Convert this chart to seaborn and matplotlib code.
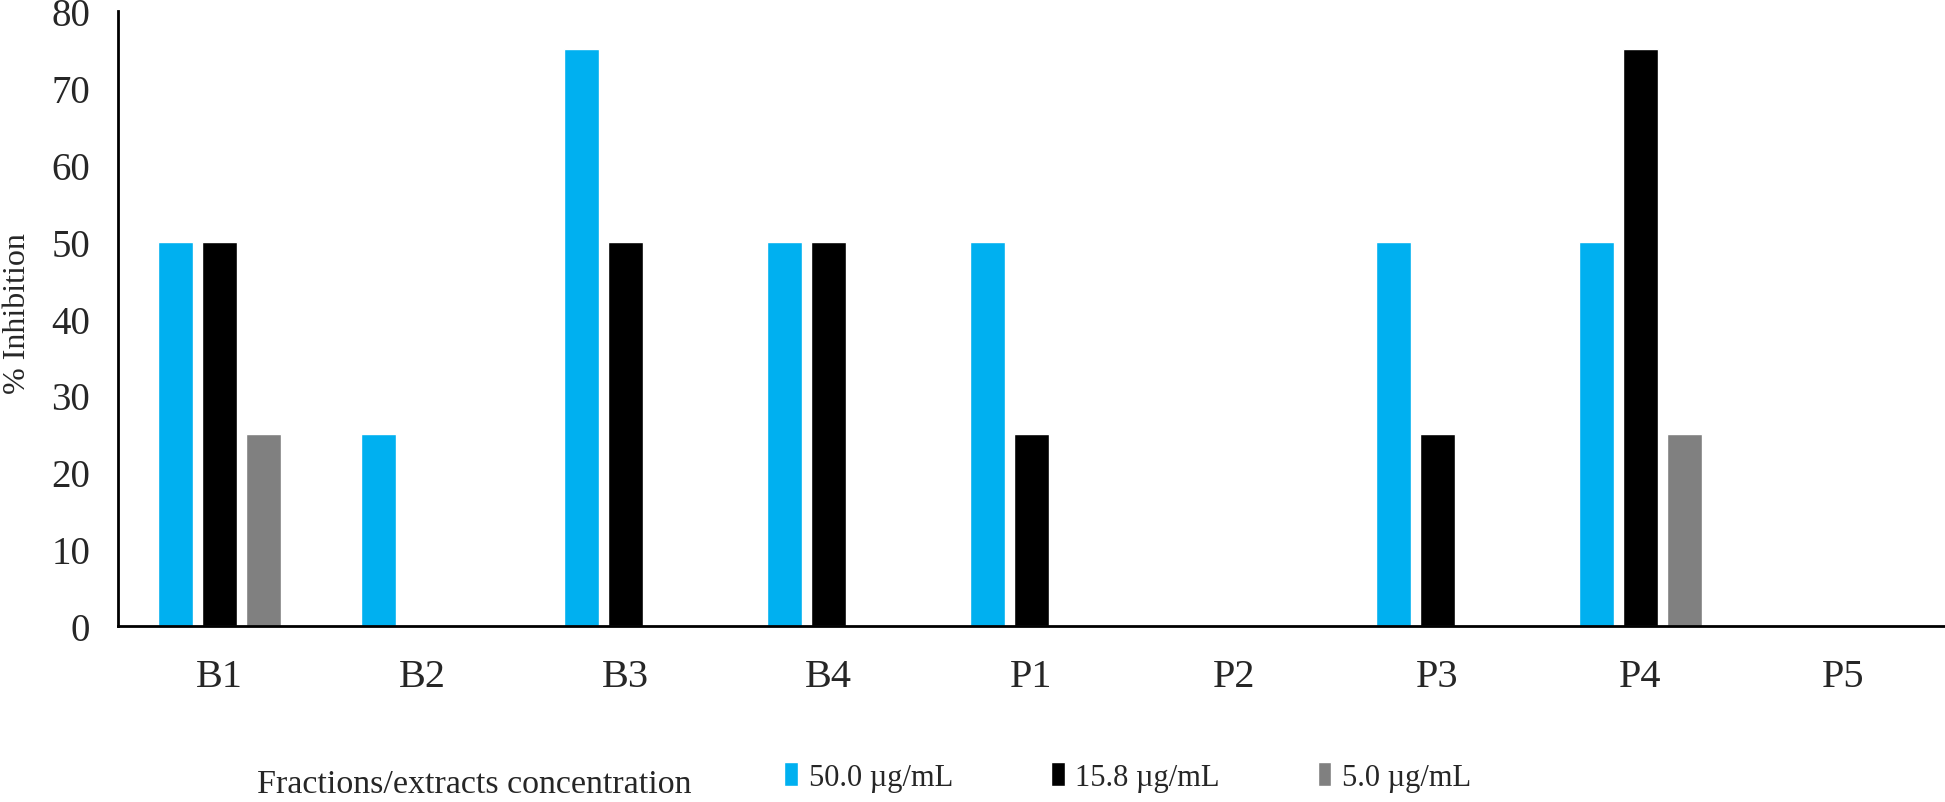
import matplotlib
matplotlib.use("Agg")
import matplotlib.pyplot as plt
import seaborn as sns
import pandas as pd

categories = ["B1", "B2", "B3", "B4", "P1", "P2", "P3", "P4", "P5"]
series_names = ["50.0 µg/mL", "15.8 µg/mL", "5.0 µg/mL"]
conc_50 = [50, 25, 75, 50, 50, 0, 50, 50, 0]
conc_15 = [50, 0, 50, 50, 25, 0, 25, 75, 0]
conc_5 = [25, 0, 0, 0, 0, 0, 0, 25, 0]
colors = ["#00B0F0", "#000000", "#808080"]
y_ticks = [0, 10, 20, 30, 40, 50, 60, 70, 80]

rows = []
for name, vals in zip(series_names, [conc_50, conc_15, conc_5]):
    for c, v in zip(categories, vals):
        rows.append({"cat": c, "series": name, "val": v})
df = pd.DataFrame(rows)

sns.set_style("white")
plt.rcParams["font.family"] = ["Liberation Serif", "DejaVu Serif"]

fig = plt.figure(figsize=(19.45, 8.03), dpi=100)
ax = fig.add_axes([0.0607, 0.219, 0.9393, 0.766])

sns.barplot(data=df, x="cat", y="val", hue="series", order=categories,
            hue_order=series_names, palette=colors, width=0.65, gap=0.21,
            saturation=1, errorbar=None, ax=ax)

ax.set_ylim(0, 80)
ax.set_yticks(y_ticks)
ax.set_xlim(-0.5, len(categories) - 0.5)
ax.tick_params(axis="y", labelsize=28, length=0, pad=20)
ax.tick_params(axis="x", labelsize=29, length=0, pad=23)
for s in ["top", "right"]:
    ax.spines[s].set_visible(False)
for s in ["left", "bottom"]:
    ax.spines[s].set_linewidth(2)
    ax.spines[s].set_color("black")

ax.set_ylabel("% Inhibition", fontsize=23)
ax.yaxis.set_label_coords(-0.047, 0.51)
ax.set_xlabel("Fractions/extracts concentration", fontsize=24.5)
ax.xaxis.set_label_coords(0.195, -0.232)

handles, labels = ax.get_legend_handles_labels()
ax.legend(handles, labels, ncol=3, loc="center left",
          bbox_to_anchor=(0.397, 0.031), bbox_transform=fig.transFigure,
          frameon=False, fontsize=22, handlelength=0.45, handleheight=0.8,
          handletextpad=0.35, columnspacing=3.2, borderaxespad=0)

fig.savefig("out.png", dpi=100)
